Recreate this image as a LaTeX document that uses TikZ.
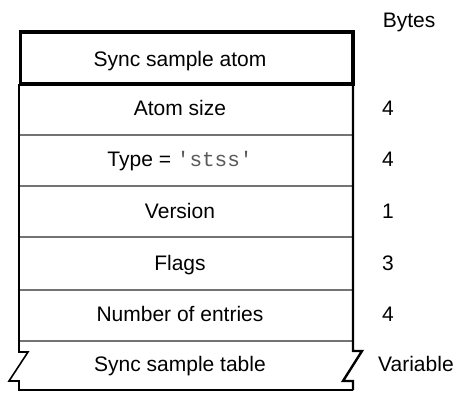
\documentclass[tikz,border=0pt]{standalone}
\usepackage{fontspec}
\setmainfont{Liberation Sans}
\newfontfamily\codefont{Liberation Mono}
\begin{document}
\begin{tikzpicture}[x=1pt,y=-1pt,
  txt/.style={font=\fontsize{21}{24}\selectfont, inner sep=0pt, anchor=base},
  num/.style={font=\fontsize{21}{24}\selectfont, inner sep=0pt, anchor=base west},
  divider/.style={draw=black!55, line width=1.4pt},
  edge/.style={draw=black, line width=1.6pt, line join=miter},
  redge/.style={draw=black, line width=2.4pt, line join=miter},
  titlebox/.style={draw=black, line width=3.6pt}
]
\useasboundingbox (0,0) rectangle (461,392);
% row dividers
\foreach \y in {135,186,237,290,341} \draw[divider] (19,\y) -- (353,\y);
% left edge with break and bottom
\draw[edge] (19,84) -- (19,352) -- (28,352) -- (9,381) -- (19,381) -- (19,390) -- (353,390);
% right edge with break
\draw[redge] (353,84) -- (353,351) -- (362,351) -- (343,381) -- (353,381) -- (353,390);
% title box
\draw[titlebox] (20.5,32) rectangle (353,84);
% texts
\node[txt] (title) at (180,66) {Sync sample atom};
\node[txt] (size) at (180,115.5) {Atom size};
\node[txt] (type) at (180,166.5) {Type = {\codefont\color{black!65}'stss'}};
\node[txt] (ver) at (180,218.5) {Version};
\node[txt] (flags) at (180,270.3) {Flags};
\node[txt] (num) at (180,321.5) {Number of entries};
\node[txt] (table) at (180,371) {Sync sample table};
% byte counts
\node[num] (bytes) at (382.7,27.3) {Bytes};
\node[num] (b1) at (382,115.5) {4};
\node[num] (b2) at (382,166.5) {4};
\node[num] (b3) at (382,218.5) {1};
\node[num] (b4) at (382,270.3) {3};
\node[num] (b5) at (382,321.5) {4};
\node[num] (b6) at (378,371) {Variable};
\end{tikzpicture}
\end{document}
